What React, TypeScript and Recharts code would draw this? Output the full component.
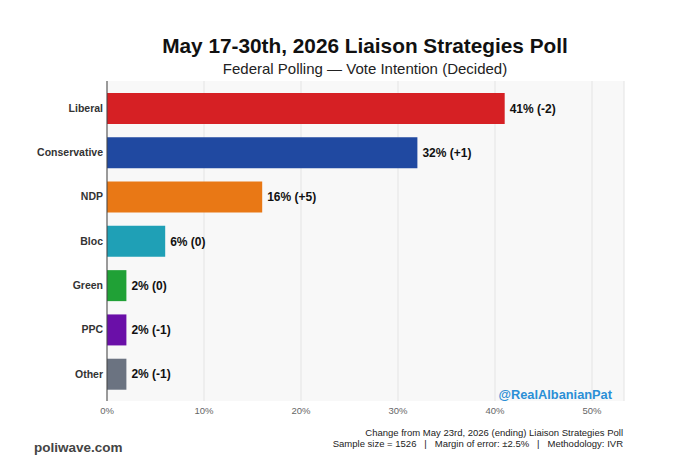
import React from "react";
import { BarChart, Bar, XAxis, YAxis, CartesianGrid, Cell, LabelList } from "recharts";

const parties = ["Liberal", "Conservative", "NDP", "Bloc", "Green", "PPC", "Other"];
const shares = [41, 32, 16, 6, 2, 2, 2];
const changes = ["-2", "+1", "+5", "0", "0", "-1", "-1"];
const colors = ["#d62024", "#2049a1", "#e97815", "#1fa0b6", "#20a136", "#6a0fa8", "#6b7381"];
const xTicks = [0, 10, 20, 30, 40, 50];

const data = parties.map((party, i) => ({
  party,
  share: shares[i],
  label: `${shares[i]}% (${changes[i]})`,
}));

const FONT = "'Liberation Sans', Arial, sans-serif";

export default function App() {
  return (
    <div
      style={{
        position: "absolute",
        left: 0,
        top: 0,
        width: 680,
        height: 476,
        background: "#ffffff",
        fontFamily: FONT,
      }}
    >
      <BarChart
        layout="vertical"
        width={680}
        height={476}
        data={data}
        margin={{ top: 81, right: 56, bottom: 45, left: 0 }}
      >
        <CartesianGrid horizontal={false} fill="#f8f8f8" stroke="#e4e4e4" />
        <XAxis
          type="number"
          domain={[0, 53.3]}
          ticks={xTicks}
          tickFormatter={(v) => `${v}%`}
          axisLine={false}
          tickLine={false}
          tickSize={6}
          tickMargin={0}
          height={30}
          tick={{ fill: "#666", fontSize: 9.5, fontFamily: FONT }}
        />
        <YAxis
          type="category"
          dataKey="party"
          width={107}
          padding={{ top: 5, bottom: 5 }}
          axisLine={{ stroke: "#444" }}
          tickLine={false}
          tickSize={0}
          tickMargin={4}
          tick={{ fill: "#333", fontSize: 10.5, fontWeight: "bold", fontFamily: FONT }}
        />
        <Bar dataKey="share" barSize={31} isAnimationActive={false}>
          {data.map((d, i) => (
            <Cell key={d.party} fill={colors[i]} />
          ))}
          <LabelList
            dataKey="label"
            position="right"
            offset={5}
            fill="#111"
            style={{ fontSize: 12, fontWeight: "bold", fontFamily: FONT }}
          />
        </Bar>
      </BarChart>
      <svg
        width={680}
        height={476}
        style={{ position: "absolute", left: 0, top: 0, pointerEvents: "none" }}
      >
        <text x={365} y={53} textAnchor="middle" fontSize={20.8} fontWeight="bold" fill="#111" fontFamily={FONT}>
          May 17-30th, 2026 Liaison Strategies Poll
        </text>
        <text x={365} y={74} textAnchor="middle" fontSize={15} fill="#222" fontFamily={FONT}>
          Federal Polling — Vote Intention (Decided)
        </text>
        <text x={612} y={399} textAnchor="end" fontSize={12.8} fontWeight="bold" fill="#2b8fd6" fontFamily={FONT}>
          @RealAlbanianPat
        </text>
        <text x={623} y={435.5} textAnchor="end" fontSize={9.5} fill="#222" fontFamily={FONT}>
          Change from May 23rd, 2026 (ending) Liaison Strategies Poll
        </text>
        <text
          x={623}
          y={446.5}
          textAnchor="end"
          fontSize={9.5}
          fill="#222"
          fontFamily={FONT}
          style={{ whiteSpace: "pre" }}
        >
          {"Sample size = 1526   |   Margin of error: ±2.5%   |   Methodology: IVR"}
        </text>
        <text x={34} y={451.5} fontSize={13.5} fontWeight="bold" fill="#444" fontFamily={FONT}>
          poliwave.com
        </text>
      </svg>
    </div>
  );
}
